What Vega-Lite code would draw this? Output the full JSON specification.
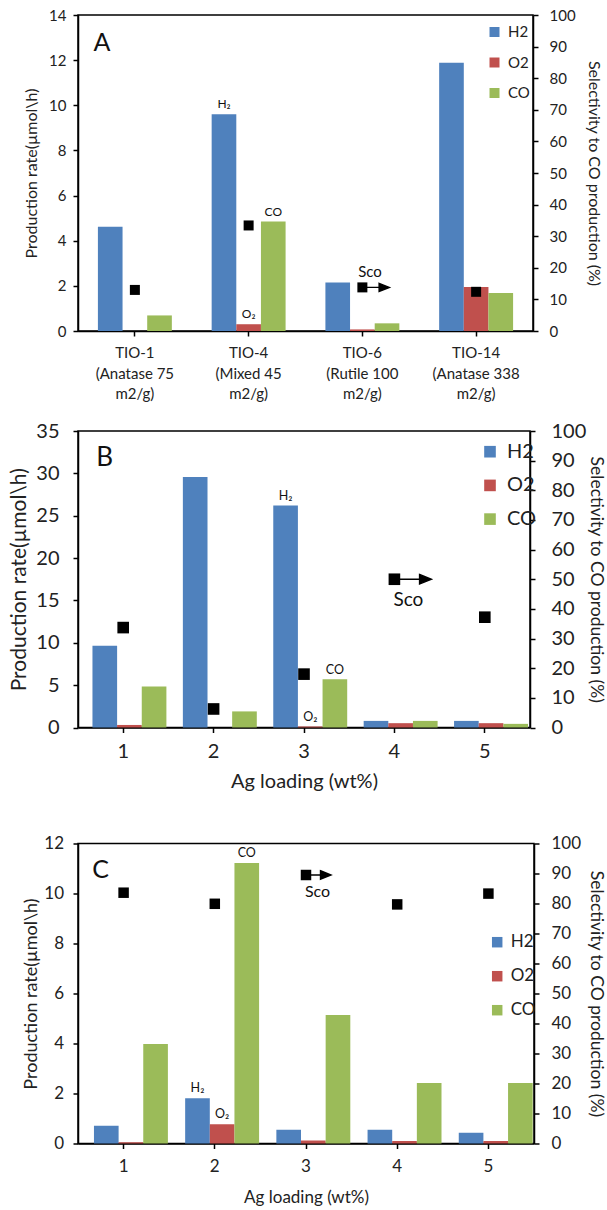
{
"$schema":"https://vega.github.io/schema/vega-lite/v6.json",
"padding":{"left":7,"top":7,"right":5,"bottom":0},
"bounds":"flush",
"spacing":100,
"resolve":{"scale":{"color":"independent"},"legend":{"color":"independent"}},
"vconcat":[
{
 "width":455,"height":316,
 "layer":[
   {"data":{"values":[
     {"cat":"TIO-1","series":"H2","value":4.62},{"cat":"TIO-1","series":"O2","value":0},{"cat":"TIO-1","series":"CO","value":0.69},
     {"cat":"TIO-4","series":"H2","value":9.6},{"cat":"TIO-4","series":"O2","value":0.3},{"cat":"TIO-4","series":"CO","value":4.85},
     {"cat":"TIO-6","series":"H2","value":2.15},{"cat":"TIO-6","series":"O2","value":0.07},{"cat":"TIO-6","series":"CO","value":0.34},
     {"cat":"TIO-14","series":"H2","value":11.88},{"cat":"TIO-14","series":"O2","value":1.95},{"cat":"TIO-14","series":"CO","value":1.68}]},
    "mark":{"type":"bar"},
    "encoding":{
     "x":{"field":"cat","type":"nominal","sort":["TIO-1","TIO-4","TIO-6","TIO-14"],"scale":{"paddingInner":0.35,"paddingOuter":0.175},
      "axis":{"title":null,"labelAngle":0,"labelFontSize":15,"labelLineHeight":20.5,"labelBaseline":"top","tickSize":5,"labelPadding":9.5,
       "labelExpr":"datum.value == 'TIO-1' ? ['TIO-1', '(Anatase 75', 'm2/g)'] : datum.value == 'TIO-4' ? ['TIO-4', '(Mixed 45', 'm2/g)'] : datum.value == 'TIO-6' ? ['TIO-6', '(Rutile 100', 'm2/g)'] : ['TIO-14', '(Anatase 338', 'm2/g)']"}},
     "xOffset":{"field":"series","type":"nominal","sort":["H2","O2","CO"],"scale":{"paddingInner":0,"paddingOuter":0}},
     "y":{"field":"value","type":"quantitative","scale":{"domain":[0,14],"nice":false},
      "axis":{"values":[0,2,4,6,8,10,12,14],"title":"Production rate(µmol\\h)","titleFontSize":16,"titleX":-47,"titleBaseline":"middle","labelFontSize":15,"tickSize":5,"labelPadding":7}},
     "color":{"field":"series","type":"nominal","scale":{"domain":["H2","O2","CO"],"range":["#4F81BD","#C0504D","#9BBB59"]},
      "legend":{"orient":"none","legendX":409,"legendY":9.5,"title":null,"labelFontSize":15,"symbolType":"square","symbolSize":100,"rowPadding":14.5,"labelOffset":6,"padding":0,"symbolStrokeWidth":0}}
    }},
   {"data":{"values":[
     {"cat":"TIO-4","series":"H2","value":9.6,"text":"H₂"},
     {"cat":"TIO-4","series":"O2","value":0.3,"text":"O₂"},
     {"cat":"TIO-4","series":"CO","value":4.85,"text":"CO"}]},
    "mark":{"type":"text","fontSize":12,"baseline":"middle","dy":-10,"color":"#111"},
    "encoding":{
     "x":{"field":"cat","type":"nominal","sort":["TIO-1","TIO-4","TIO-6","TIO-14"]},
     "xOffset":{"field":"series","type":"nominal","sort":["H2","O2","CO"]},
     "y":{"field":"value","type":"quantitative","scale":{"domain":[0,14],"nice":false},"axis":null},
     "text":{"field":"text"}}},
   {"data":{"values":[{"cat":"TIO-1","value":12.76,"text":"A"}]},
    "mark":{"type":"text","fontSize":25,"baseline":"middle","dx":-33,"color":"#111"},
    "encoding":{
     "x":{"field":"cat","type":"nominal","sort":["TIO-1","TIO-4","TIO-6","TIO-14"]},
     "y":{"field":"value","type":"quantitative","scale":{"domain":[0,14],"nice":false},"axis":null},
     "text":{"field":"text"}}},
   {"data":{"values":[{"cat":"TIO-6","sco":13.8}]},
    "mark":{"type":"point","shape":"M0,0H0.66M0.62,-0.15L1,0L0.62,0.15Z","fill":"black","stroke":"black","strokeWidth":1.4,"size":2916,"opacity":1,"filled":true},
    "encoding":{
     "x":{"field":"cat","type":"nominal","sort":["TIO-1","TIO-4","TIO-6","TIO-14"]},
     "y":{"field":"sco","type":"quantitative","scale":{"domain":[0,100],"nice":false},"axis":null}}},
   {"data":{"values":[{"cat":"TIO-1","sco":13.0},{"cat":"TIO-4","sco":33.4},{"cat":"TIO-6","sco":13.8},{"cat":"TIO-14","sco":12.4}]},
    "mark":{"type":"square","color":"black","size":100,"opacity":1},
    "encoding":{
     "x":{"field":"cat","type":"nominal","sort":["TIO-1","TIO-4","TIO-6","TIO-14"]},
     "y":{"field":"sco","type":"quantitative","scale":{"domain":[0,100],"nice":false},
      "axis":{"orient":"right","values":[0,10,20,30,40,50,60,70,80,90,100],"title":"Selectivity to CO production (%)","titleFontSize":16,"titleX":60,"titleBaseline":"middle","labelFontSize":15,"tickSize":5,"labelPadding":11}}}},
   {"data":{"values":[{"cat":"TIO-6","sco":13.8,"text":"Sco"}]},
    "mark":{"type":"text","fontSize":15,"baseline":"middle","dx":7.6,"dy":-15.7,"color":"#111"},
    "encoding":{
     "x":{"field":"cat","type":"nominal","sort":["TIO-1","TIO-4","TIO-6","TIO-14"]},
     "y":{"field":"sco","type":"quantitative","scale":{"domain":[0,100],"nice":false},"axis":null},
     "text":{"field":"text"}}}
 ],
 "resolve":{"scale":{"y":"independent"}}
},
{
 "bounds":"flush",
 "spacing":115.5,
 "resolve":{"scale":{"color":"independent"},"legend":{"color":"independent"}},
 "vconcat":[
 {
 "width":452,"height":296.5,
 "layer":[
   {"data":{"values":[
     {"cat":"1","series":"H2","value":9.65},{"cat":"1","series":"O2","value":0.3},{"cat":"1","series":"CO","value":4.85},
     {"cat":"2","series":"H2","value":29.56},{"cat":"2","series":"O2","value":0},{"cat":"2","series":"CO","value":1.9},
     {"cat":"3","series":"H2","value":26.2},{"cat":"3","series":"O2","value":0.12},{"cat":"3","series":"CO","value":5.7},
     {"cat":"4","series":"H2","value":0.78},{"cat":"4","series":"O2","value":0.51},{"cat":"4","series":"CO","value":0.78},
     {"cat":"5","series":"H2","value":0.78},{"cat":"5","series":"O2","value":0.51},{"cat":"5","series":"CO","value":0.43}]},
    "mark":{"type":"bar"},
    "encoding":{
     "x":{"field":"cat","type":"nominal","sort":["1","2","3","4","5"],"scale":{"paddingInner":0.32,"paddingOuter":0.16},
      "axis":{"title":"Ag loading (wt%)","titleFontSize":20,"titleY":54,"titleBaseline":"middle","labelAngle":0,"labelFontSize":20,"labelBaseline":"top","tickSize":5,"labelPadding":9}},
     "xOffset":{"field":"series","type":"nominal","sort":["H2","O2","CO"],"scale":{"paddingInner":0,"paddingOuter":0}},
     "y":{"field":"value","type":"quantitative","scale":{"domain":[0,35],"nice":false},
      "axis":{"values":[0,5,10,15,20,25,30,35],"title":"Production rate(µmol\\h)","titleFontSize":21,"titleX":-58.6,"titleBaseline":"middle","labelFontSize":20,"tickSize":5,"labelPadding":14}},
     "color":{"field":"series","type":"nominal","scale":{"domain":["H2","O2","CO"],"range":["#4F81BD","#C0504D","#9BBB59"]},
      "legend":{"orient":"none","legendX":402,"legendY":10.7,"title":null,"labelFontSize":20,"symbolType":"square","symbolSize":135,"rowPadding":13.7,"labelOffset":7,"padding":0,"symbolStrokeWidth":0}}
    }},
   {"data":{"values":[
     {"cat":"3","series":"H2","value":26.2,"text":"H₂"},
     {"cat":"3","series":"O2","value":0.12,"text":"O₂"},
     {"cat":"3","series":"CO","value":5.7,"text":"CO"}]},
    "mark":{"type":"text","fontSize":12.5,"baseline":"middle","dy":-9.5,"color":"#111"},
    "encoding":{
     "x":{"field":"cat","type":"nominal","sort":["1","2","3","4","5"]},
     "xOffset":{"field":"series","type":"nominal","sort":["H2","O2","CO"]},
     "y":{"field":"value","type":"quantitative","scale":{"domain":[0,35],"nice":false},"axis":null},
     "text":{"field":"text"}}},
   {"data":{"values":[{"cat":"1","value":31.87,"text":"B"}]},
    "mark":{"type":"text","fontSize":26,"baseline":"middle","dx":-18.6,"color":"#111"},
    "encoding":{
     "x":{"field":"cat","type":"nominal","sort":["1","2","3","4","5"]},
     "y":{"field":"value","type":"quantitative","scale":{"domain":[0,35],"nice":false},"axis":null},
     "text":{"field":"text"}}},
   {"data":{"values":[{"cat":"4","sco":50}]},
    "mark":{"type":"point","shape":"M0,0H0.7M0.68,-0.13L1,0L0.68,0.13Z","fill":"black","stroke":"black","strokeWidth":1.4,"size":5476,"opacity":1,"filled":true},
    "encoding":{
     "x":{"field":"cat","type":"nominal","sort":["1","2","3","4","5"]},
     "y":{"field":"sco","type":"quantitative","scale":{"domain":[0,100],"nice":false},"axis":null}}},
   {"data":{"values":[{"cat":"1","sco":33.7},{"cat":"2","sco":6.25},{"cat":"3","sco":18.0},{"cat":"4","sco":50},{"cat":"5","sco":37.2}]},
    "mark":{"type":"square","color":"black","size":135,"opacity":1},
    "encoding":{
     "x":{"field":"cat","type":"nominal","sort":["1","2","3","4","5"]},
     "y":{"field":"sco","type":"quantitative","scale":{"domain":[0,100],"nice":false},
      "axis":{"orient":"right","values":[0,10,20,30,40,50,60,70,80,90,100],"title":"Selectivity to CO production (%)","titleFontSize":17.5,"titleX":65,"titleBaseline":"middle","labelFontSize":20,"tickSize":5,"labelPadding":16}}}},
   {"data":{"values":[{"cat":"4","sco":50,"text":"Sco"}]},
    "mark":{"type":"text","fontSize":19,"baseline":"middle","dx":14,"dy":21.2,"color":"#111"},
    "encoding":{
     "x":{"field":"cat","type":"nominal","sort":["1","2","3","4","5"]},
     "y":{"field":"sco","type":"quantitative","scale":{"domain":[0,100],"nice":false},"axis":null},
     "text":{"field":"text"}}}
 ],
 "resolve":{"scale":{"y":"independent"}}
},
{
 "width":456,"height":300,
 "layer":[
   {"data":{"values":[
     {"cat":"1","series":"H2","value":0.71},{"cat":"1","series":"O2","value":0.05},{"cat":"1","series":"CO","value":3.98},
     {"cat":"2","series":"H2","value":1.81},{"cat":"2","series":"O2","value":0.77},{"cat":"2","series":"CO","value":11.22},
     {"cat":"3","series":"H2","value":0.55},{"cat":"3","series":"O2","value":0.12},{"cat":"3","series":"CO","value":5.14},
     {"cat":"4","series":"H2","value":0.55},{"cat":"4","series":"O2","value":0.1},{"cat":"4","series":"CO","value":2.42},
     {"cat":"5","series":"H2","value":0.43},{"cat":"5","series":"O2","value":0.1},{"cat":"5","series":"CO","value":2.42}]},
    "mark":{"type":"bar"},
    "encoding":{
     "x":{"field":"cat","type":"nominal","sort":["1","2","3","4","5"],"scale":{"paddingInner":0.35,"paddingOuter":0.175},
      "axis":{"title":"Ag loading (wt%)","titleFontSize":17,"titleY":54,"titleBaseline":"middle","labelAngle":0,"labelFontSize":17,"labelBaseline":"top","tickSize":5,"labelPadding":9.8}},
     "xOffset":{"field":"series","type":"nominal","sort":["H2","O2","CO"],"scale":{"paddingInner":0,"paddingOuter":0}},
     "y":{"field":"value","type":"quantitative","scale":{"domain":[0,12],"nice":false},
      "axis":{"values":[0,2,4,6,8,10,12],"title":"Production rate(µmol\\h)","titleFontSize":18,"titleX":-47,"titleBaseline":"middle","labelFontSize":17,"tickSize":5,"labelPadding":9.5}},
     "color":{"field":"series","type":"nominal","scale":{"domain":["H2","O2","CO"],"range":["#4F81BD","#C0504D","#9BBB59"]},
      "legend":{"orient":"none","legendX":410.7,"legendY":90.2,"title":null,"labelFontSize":17,"symbolType":"square","symbolSize":110,"rowPadding":16,"labelOffset":5,"padding":0,"symbolStrokeWidth":0}}
    }},
   {"data":{"values":[
     {"cat":"2","series":"H2","value":1.81,"text":"H₂"},
     {"cat":"2","series":"O2","value":0.77,"text":"O₂"},
     {"cat":"2","series":"CO","value":11.22,"text":"CO"}]},
    "mark":{"type":"text","fontSize":12.5,"baseline":"middle","dy":-10,"color":"#111"},
    "encoding":{
     "x":{"field":"cat","type":"nominal","sort":["1","2","3","4","5"]},
     "xOffset":{"field":"series","type":"nominal","sort":["H2","O2","CO"]},
     "y":{"field":"value","type":"quantitative","scale":{"domain":[0,12],"nice":false},"axis":null},
     "text":{"field":"text"}}},
   {"data":{"values":[{"cat":"1","value":10.95,"text":"C"}]},
    "mark":{"type":"text","fontSize":25,"baseline":"middle","dx":-23,"color":"#111"},
    "encoding":{
     "x":{"field":"cat","type":"nominal","sort":["1","2","3","4","5"]},
     "y":{"field":"value","type":"quantitative","scale":{"domain":[0,12],"nice":false},"axis":null},
     "text":{"field":"text"}}},
   {"data":{"values":[{"cat":"3","sco":89.5}]},
    "mark":{"type":"point","shape":"M0,0H0.62M0.58,-0.17L1,0L0.58,0.17Z","fill":"black","stroke":"black","strokeWidth":1.4,"size":2500,"opacity":1,"filled":true},
    "encoding":{
     "x":{"field":"cat","type":"nominal","sort":["1","2","3","4","5"]},
     "y":{"field":"sco","type":"quantitative","scale":{"domain":[0,100],"nice":false},"axis":null}}},
   {"data":{"values":[{"cat":"1","sco":83.6},{"cat":"2","sco":79.9},{"cat":"3","sco":89.5},{"cat":"4","sco":79.7},{"cat":"5","sco":83.3}]},
    "mark":{"type":"square","color":"black","size":110,"opacity":1},
    "encoding":{
     "x":{"field":"cat","type":"nominal","sort":["1","2","3","4","5"]},
     "y":{"field":"sco","type":"quantitative","scale":{"domain":[0,100],"nice":false},
      "axis":{"orient":"right","values":[0,10,20,30,40,50,60,70,80,90,100],"title":"Selectivity to CO production (%)","titleFontSize":17.5,"titleX":61,"titleBaseline":"middle","labelFontSize":17,"tickSize":5,"labelPadding":12}}}},
   {"data":{"values":[{"cat":"3","sco":89.5,"text":"Sco"}]},
    "mark":{"type":"text","fontSize":16,"baseline":"middle","dx":11.5,"dy":17.2,"color":"#111"},
    "encoding":{
     "x":{"field":"cat","type":"nominal","sort":["1","2","3","4","5"]},
     "y":{"field":"sco","type":"quantitative","scale":{"domain":[0,100],"nice":false},"axis":null},
     "text":{"field":"text"}}}
 ],
 "resolve":{"scale":{"y":"independent"}}
}
 ]
}
],
"config":{
 "font":"Lato",
 "background":"white",
 "view":{"stroke":"black","strokeWidth":1.5},
 "axis":{"domainColor":"black","domainWidth":1.5,"tickColor":"black","tickWidth":1.5,"labelColor":"#222","titleColor":"#222","grid":false,"titleFontWeight":"normal"},
 "legend":{"labelColor":"#222"},
 "text":{"font":"Lato"}
}
}
